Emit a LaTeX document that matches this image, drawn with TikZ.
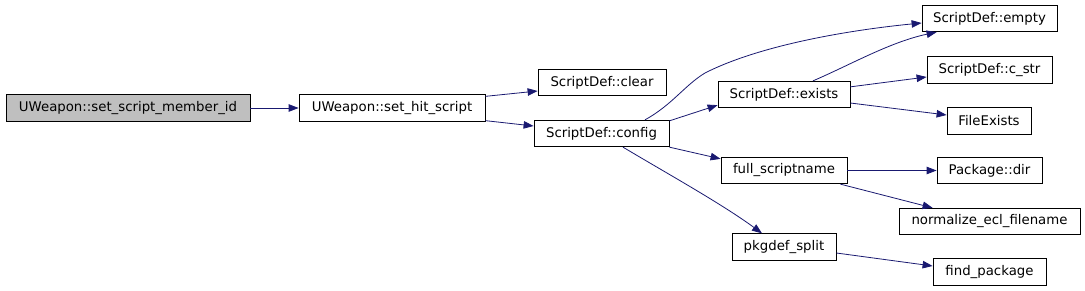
\documentclass[tikz,border=0pt]{standalone}
\usepackage{fontspec}
\setmainfont{DejaVu Sans}
\usetikzlibrary{arrows.meta}
\definecolor{edgeblue}{HTML}{191970}
\definecolor{rootgray}{HTML}{BFBFBF}
\begin{document}
\begin{tikzpicture}[x=1pt,y=-1pt,
  fn/.style={draw=black, line width=0.8pt, fill=white, inner sep=0pt, minimum height=26.5pt,
    font=\fontsize{13.3}{16}\selectfont, text=black},
  root/.style={fn, fill=rootgray},
  call/.style={draw=edgeblue, line width=0.8pt, -{Triangle[length=10pt,width=7.5pt]}, edgeblue}]
\useasboundingbox (0,0) rectangle (1085,291);
\node[root, minimum width=244pt] (member) at (128,108) {UWeapon::set\_script\_member\_id};
\node[fn, minimum width=186pt] (hit) at (392,108) {UWeapon::set\_hit\_script};
\node[fn, minimum width=128pt] (clear) at (602,82.5) {ScriptDef::clear};
\node[fn, minimum width=135pt] (config) at (601.5,133.5) {ScriptDef::config};
\node[fn, minimum width=135pt] (empty) at (989.5,18.5) {ScriptDef::empty};
\node[fn, minimum width=125pt] (cstr) at (989.5,70) {ScriptDef::c\_str};
\node[fn, minimum width=132pt] (exists) at (784,94.5) {ScriptDef::exists};
\node[fn, minimum width=84pt] (fileexists) at (989,121) {FileExists};
\node[fn, minimum width=126pt] (full) at (784,170.5) {full\_scriptname};
\node[fn, minimum width=105pt] (pkgdir) at (989.5,170.5) {Package::dir};
\node[fn, minimum width=181pt] (normalize) at (989.5,221.5) {normalize\_ecl\_filename};
\node[fn, minimum width=104pt] (pkgdef) at (784,247) {pkgdef\_split};
\node[fn, minimum width=113pt] (find) at (989.5,272) {find\_package};

\draw[call] (member.east) -- (hit.west);
\draw[call] ([yshift=-2pt]hit.north east) -- ([yshift=-8.5pt]clear.west);
\draw[call] ([yshift=1pt]hit.south east) -- ([yshift=7.5pt]config.west);
\draw[call] ([xshift=43.5pt]config.north) .. controls (672,105) and (685,85) .. (705,73)
  .. controls (760,45) and (850,30) .. ([yshift=-4.5pt]empty.west);
\draw[call] ([yshift=-1pt]config.north east) -- ([yshift=3pt]exists.south west);
\draw[call] (config.south east) -- ([yshift=-2pt]full.north west);
\draw[call] ([xshift=21.5pt]config.south) .. controls (668,174) and (722,204) .. ([xshift=-22pt]pkgdef.north);
\draw[call] ([xshift=29pt]exists.north) .. controls (850,65) and (890,42) .. ([xshift=15pt]empty.south west);
\draw[call] ([yshift=-6pt]exists.north east) -- ([yshift=-7pt]cstr.west);
\draw[call] ([yshift=-8.5pt]exists.east) -- ([yshift=6pt]fileexists.west);
\draw[call] (full.east) -- (pkgdir.west);
\draw[call] ([xshift=-7pt]full.south east) -- ([xshift=34pt]normalize.north west);
\draw[call] ([yshift=-6pt]pkgdef.east) -- ([yshift=6pt]find.west);
\end{tikzpicture}
\end{document}
